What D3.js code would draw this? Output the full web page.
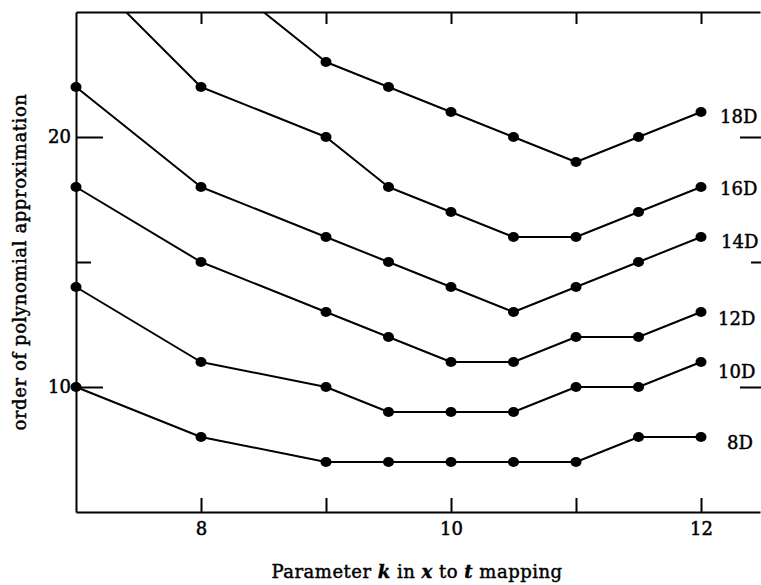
<!DOCTYPE html>
<html>
<head>
<meta charset="utf-8">
<script src="https://cdn.jsdelivr.net/npm/d3@7"></script>
<style>
  html, body { margin: 0; padding: 0; background: #fff; }
  svg { display: block; }
</style>
</head>
<body>
<svg id="chart" width="761" height="585"></svg>
<script>
// ---- data ----
const kValues = [7, 8, 9, 9.5, 10, 10.5, 11, 11.5, 12];
const seriesNames = ["8D", "10D", "12D", "14D", "16D", "18D"];
const order8D  = [10, 8, 7, 7, 7, 7, 7, 8, 8];
const order10D = [14, 11, 10, 9, 9, 9, 10, 10, 11];
const order12D = [18, 15, 13, 12, 11, 11, 12, 12, 13];
const order14D = [22, 18, 16, 15, 14, 13, 14, 15, 16];
const order16D = [27, 22, 20, 18, 17, 16, 16, 17, 18];
const order18D = [null, 27, 23, 22, 21, 20, 19, 20, 21];
const xTickValues = [8, 9, 10, 11, 12];
const xTickLabels = ["8", "", "10", "", "12"];
const yTickLabels = [10, 20];
const xTitle = ["Parameter ", "k", " in ", "x", " to ", "t", " mapping"];
const yTitle = "order of polynomial approximation";

(function () {
const allSeries = [order8D, order10D, order12D, order14D, order16D, order18D];
const labelDx = [26, 17, 17, 20, 19, 19];
const labelDy = [7, 11, 7.5, 6, 3, 6];

const svg = d3.select("#chart");
const pL = 76, pR = 760, pT = 12, pB = 512;
const x = d3.scaleLinear().domain([7, 12.472]).range([pL, pR]);
const y = d3.scaleLinear().domain([5, 25]).range([pB, pT]);
const serif = "'DejaVu Serif', 'Liberation Serif', serif";

svg.append("defs").append("clipPath").attr("id", "plotclip")
  .append("rect").attr("x", pL - 8).attr("y", pT).attr("width", pR - pL + 8).attr("height", pB - pT);

// axes
const gBottom = svg.append("g").attr("transform", `translate(0,${pB})`)
  .call(d3.axisBottom(x).tickValues(xTickValues).tickSizeInner(-14).tickSizeOuter(0)
    .tickPadding(10).tickFormat((d, i) => xTickLabels[i]));
const gTop = svg.append("g").attr("transform", `translate(0,${pT})`)
  .call(d3.axisTop(x).tickValues(xTickValues).tickSizeInner(-12).tickSizeOuter(0).tickFormat(""));
const gLeft = svg.append("g").attr("transform", `translate(${pL},0)`)
  .call(d3.axisLeft(y).tickValues(yTickLabels).tickSizeInner(-27).tickSizeOuter(0).tickPadding(5).tickFormat(d3.format("d")));
const gLeft15 = svg.append("g").attr("transform", `translate(${pL},0)`)
  .call(d3.axisLeft(y).tickValues([15]).tickSizeInner(-15).tickSizeOuter(0).tickFormat(""));
gLeft15.select(".domain").remove();
const gRight = svg.append("g").attr("transform", `translate(${pR + 1},0)`)
  .call(d3.axisRight(y).tickValues([10, 20]).tickSizeInner(-21).tickSizeOuter(0).tickFormat(""));
const gRight15 = svg.append("g").attr("transform", `translate(${pR + 1},0)`)
  .call(d3.axisRight(y).tickValues([15]).tickSizeInner(-10).tickSizeOuter(0).tickFormat(""));
gRight.select(".domain").remove();
gRight15.select(".domain").remove();

svg.selectAll(".domain").attr("stroke", "#000").attr("stroke-width", 2);
svg.selectAll(".tick line").attr("stroke", "#000").attr("stroke-width", 2);
svg.selectAll(".tick text").attr("font-family", serif).attr("font-size", 18)
  .attr("fill", "#000").attr("stroke", "#000").attr("stroke-width", 0.5);

// lines and markers
const plot = svg.append("g").attr("clip-path", "url(#plotclip)");
const line = d3.line().defined(d => d[1] !== null).x(d => x(d[0])).y(d => y(d[1]));
allSeries.forEach((vals, si) => {
  const pts = kValues.map((k, i) => [k, vals[i]]);
  plot.append("path").datum(pts).attr("d", line)
    .attr("fill", "none").attr("stroke", "#000").attr("stroke-width", 2).attr("stroke-linejoin", "round");
  plot.selectAll(null).data(pts.filter(p => p[1] !== null && p[1] <= 25)).enter()
    .append("ellipse").attr("cx", p => x(p[0])).attr("cy", p => y(p[1]))
    .attr("rx", 5.5).attr("ry", 5).attr("fill", "#000");
  const last = vals[vals.length - 1];
  svg.append("text").attr("x", x(12) + labelDx[si]).attr("y", y(last) + labelDy[si])
    .attr("dominant-baseline", "middle")
    .attr("font-family", serif).attr("font-size", 18)
    .attr("stroke", "#000").attr("stroke-width", 0.45)
    .text(seriesNames[si]);
});

// titles
const xt = svg.append("text").attr("x", 417).attr("y", 578).attr("text-anchor", "middle")
  .attr("font-family", serif).attr("font-size", 18).attr("letter-spacing", 0.5)
  .attr("stroke", "#000").attr("stroke-width", 0.45);
xTitle.forEach((s, i) => {
  xt.append("tspan").text(s).attr("font-style", i % 2 === 1 ? "italic" : "normal")
    .attr("font-weight", i % 2 === 1 ? "bold" : "normal");
});
svg.append("text").attr("transform", `translate(26,262) rotate(-90)`)
  .attr("text-anchor", "middle").attr("font-family", serif).attr("font-size", 18)
  .attr("letter-spacing", 0.6)
  .attr("stroke", "#000").attr("stroke-width", 0.45)
  .text(yTitle);
})();
</script>
</body>
</html>
